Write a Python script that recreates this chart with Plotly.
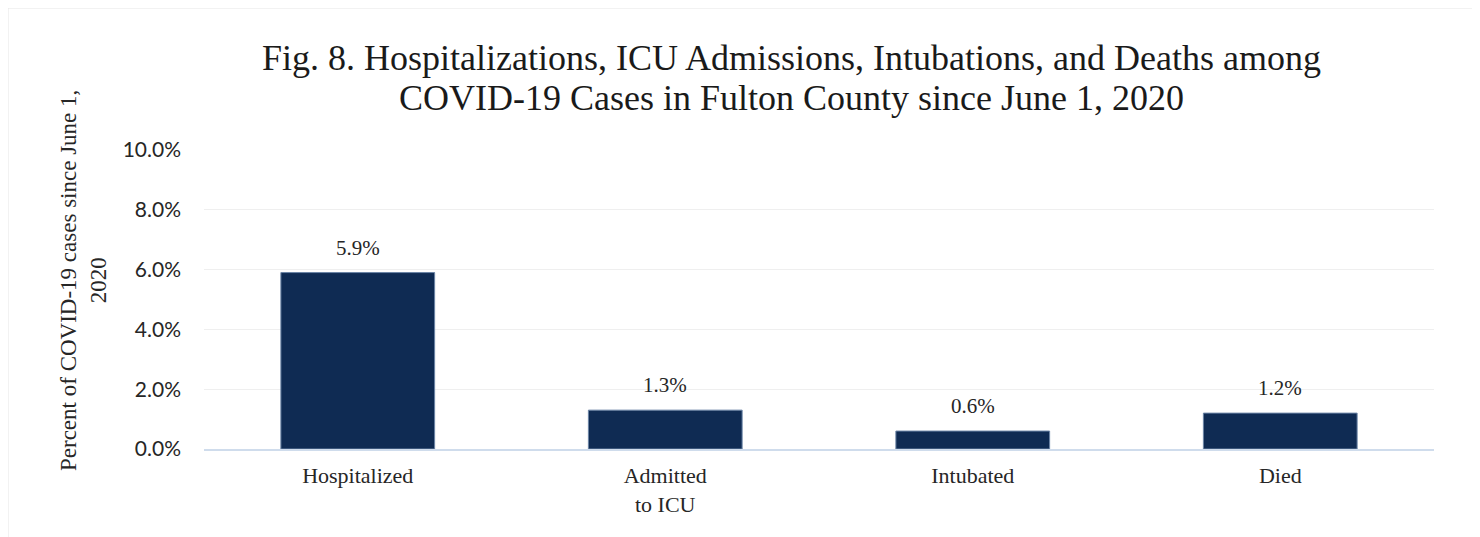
import plotly.graph_objects as go

categories = ["Hospitalized", "Admitted<br>to ICU", "Intubated", "Died"]
values = [0.059, 0.013, 0.006, 0.012]
tick_vals = [0, 0.02, 0.04, 0.06, 0.08, 0.10]
tick_text = ["0.0%", "2.0%", "4.0%", "6.0%", "8.0%", "10.0%"]
title_lines = [
    "Fig. 8. Hospitalizations, ICU Admissions, Intubations, and Deaths among",
    "COVID-19 Cases in Fulton County since June 1, 2020",
]

# page body adds an 8px offset; work in screen px and convert
OFF = 8
W, H = 1480 - OFF, 537 - OFF
L, R, T, B = 204 - OFF, 46, 150 - OFF, 537 - 449
pw, ph = W - L - R, H - T - B

def px_x(px):
    return (px - OFF - L) / pw

def px_y(py):
    return (H - B - (py - OFF)) / ph

serif = "Liberation Serif"
sans = "Lato"

fig = go.Figure()
fig.add_trace(go.Bar(
    x=categories, y=values,
    width=0.5,
    marker=dict(color="#0f2b53", line=dict(color="#6b84a6", width=1)),
    hoverinfo="skip",
))

annotations = []
for c, v in zip(categories, values):
    annotations.append(dict(
        x=c, y=v, xref="x", yref="y", text=f"{v*100:.1f}%",
        showarrow=False, yanchor="bottom", yshift=11,
        font=dict(family=serif, size=21, color="#262626"),
    ))

annotations.append(dict(
    x=px_x(83), y=px_y(281), xref="paper", yref="paper",
    text="Percent of COVID-19 cases since June 1,<br>2020",
    textangle=-90, showarrow=False, xanchor="center", yanchor="middle",
    font=dict(family=serif, size=23, color="#262626"),
))

for line, cy in zip(title_lines, [58, 98]):
    annotations.append(dict(
        x=px_x(791.5), y=px_y(cy), xref="paper", yref="paper",
        text=line, showarrow=False, xanchor="center", yanchor="middle",
        font=dict(family=serif, size=36, color="#1a1a1a"),
    ))

shapes = [
    dict(type="rect", xref="paper", yref="paper",
         x0=px_x(1473), x1=px_x(1479), y0=px_y(545), y1=px_y(8),
         fillcolor="#b8b8b8", line=dict(width=0), layer="below"),
    dict(type="rect", xref="paper", yref="paper",
         x0=px_x(8), x1=px_x(1473), y0=px_y(545), y1=px_y(8),
         fillcolor="white", line=dict(color="#e6e6e6", width=1), layer="below"),
]

fig.update_layout(
    width=W, height=H,
    margin=dict(l=L, r=R, t=T, b=B, autoexpand=False),
    paper_bgcolor="white", plot_bgcolor="rgba(0,0,0,0)",
    showlegend=False,
    annotations=annotations,
    shapes=shapes,
    xaxis=dict(
        tickfont=dict(family=serif, size=22, color="#262626"),
        showline=True, linecolor="#cfdcec", linewidth=2,
        showgrid=False, ticks="", ticklabelstandoff=6,
        fixedrange=True,
    ),
    yaxis=dict(
        range=[0, 0.10], tickvals=tick_vals, ticktext=tick_text,
        tickfont=dict(family=sans, size=21, color="#262626"),
        showgrid=True, gridcolor="#efefef", gridwidth=1,
        zeroline=False, showline=False, ticks="", ticklabelstandoff=22,
        fixedrange=True,
    ),
)

fig.write_html("out.html", config={"displayModeBar": False})
